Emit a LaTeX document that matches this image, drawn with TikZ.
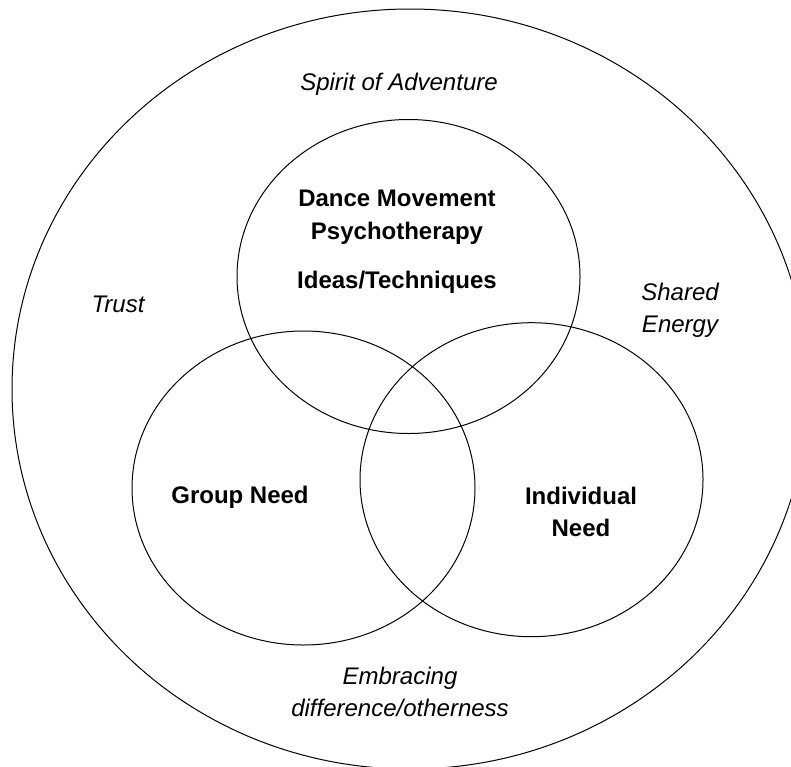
\documentclass[tikz,border=0pt]{standalone}
\usepackage{fontspec}
\setmainfont{Liberation Sans}
\usepackage{tikz}

\begin{document}
\begin{tikzpicture}[
  x=0.5pt, y=-0.5pt,
  ring/.style={draw=black, line width=0.5pt},
  need/.style={font=\fontsize{12}{16.3}\selectfont\bfseries, align=center, inner sep=0pt},
  value/.style={font=\fontsize{12}{16}\selectfont\itshape, align=center, inner sep=0pt}
]
  % Page frame
  \useasboundingbox (0,0) rectangle (791,766);
  \clip (0,0) rectangle (791,766);

  % Outer circle
  \draw[ring] (410,389) ellipse [x radius=398, y radius=380];

  % Three overlapping circles
  \foreach \cx/\cy in {408.5/276.5, 303.5/488, 531.5/479.7}{
    \draw[ring] (\cx,\cy) ellipse [x radius=171.5, y radius=157];
  }

  % Labels inside the circles
  \node[need] (dmp) at (397,241.7)
    {Dance Movement\\Psychotherapy\\[8pt]Ideas/Techniques};
  \node[need] (group) at (240,497) {Group Need};
  \node[need] (indiv) at (581,512) {Individual\\Need};

  % Labels round the circles
  \node[value] (spirit) at (399,84) {Spirit of Adventure};
  \node[value] (trust) at (118,304) {Trust};
  \node[value] (energy) at (680,310) {Shared\\Energy};
  \node[value] (other) at (400,691.5) {Embracing\\difference/otherness};
\end{tikzpicture}
\end{document}
